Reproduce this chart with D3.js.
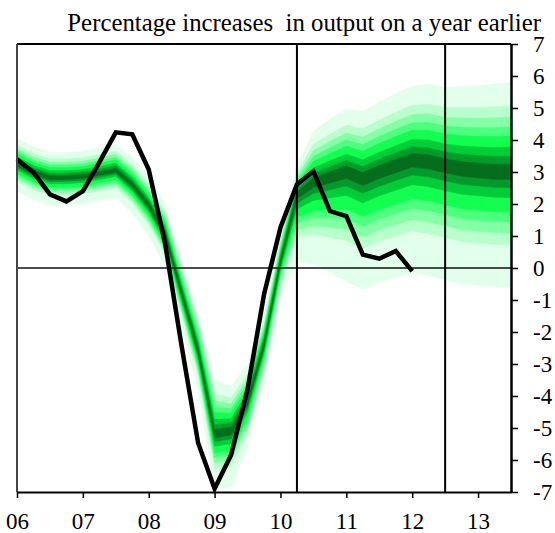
<!doctype html>
<html lang="en">
<head>
<meta charset="utf-8">
<title>Output fan chart</title>
<script src="https://cdn.jsdelivr.net/npm/d3@7/dist/d3.min.js"></script>
<style>
  body { margin: 0; background: #fff; }
  svg { display: block; font-family: "Liberation Serif", "DejaVu Serif", serif; }
  .axis path, .axis line { stroke: #000; }
  .axis text { font-size: 23px; fill: #000; font-family: "Liberation Serif", serif; }
</style>
</head>
<body>
<svg width="555" height="533"></svg>
<script>
// quarterly series, first point is 2006 Q1
var startYear = 2006;

// outturn, % change on a year earlier (2006 Q1 - 2012 Q1)
var outturn = [3.40, 2.99, 2.30, 2.08, 2.40, 3.30, 4.24, 4.18,
               3.08, 0.75, -2.45, -5.47, -6.90, -5.84, -3.80, -0.83,
               1.27, 2.61, 3.03, 1.78, 1.62, 0.42, 0.29, 0.53, -0.10];

// fan centre (2006 Q1 - 2013 Q3)
var fanCentre = [3.25, 2.98, 2.82, 2.82, 2.85, 2.95, 3.05, 2.60,
                 1.95, 1.05, -0.80, -2.60, -5.20, -5.10, -4.20, -2.40,
                 0.20, 2.30, 2.68, 2.85, 3.02, 2.80, 3.02, 3.20,
                 3.38, 3.33, 3.20, 3.10, 3.05, 3.00, 3.00];

// distance from centre to outer edge of the fan, above and below
var fanUp = [0.80, 0.80, 0.80, 0.80, 0.80, 0.80, 0.82, 0.85,
             0.90, 0.95, 1.05, 1.20, 1.70, 1.40, 1.20, 1.00,
             0.90, 0.90, 1.60, 1.80, 1.94, 2.10, 2.16, 2.25,
             2.30, 2.42, 2.45, 2.58, 2.65, 2.75, 2.80];
var fanDown = [0.85, 0.85, 0.85, 0.85, 0.85, 0.85, 0.85, 0.90,
               0.95, 1.00, 1.05, 1.20, 1.70, 1.75, 1.40, 1.20,
               1.10, 2.10, 2.58, 3.00, 3.42, 3.47, 3.47, 3.50,
               3.53, 3.58, 3.56, 3.60, 3.60, 3.58, 3.62];

// band edges as share of the outer distance, centre band first
var bandUp = [0.086, 0.176, 0.277, 0.403, 0.504, 0.615, 0.741, 1.0];
var bandDown = [0.064, 0.134, 0.220, 0.344, 0.430, 0.528, 0.631, 1.0];
var bandColours = ["#056e1d", "#019a2b", "#00cd38", "#12ff52",
                   "#4cff7d", "#85ffa5", "#b8ffcc", "#e2ffeb"];

var yearTicks = [2006, 2007, 2008, 2009, 2010, 2011, 2012, 2013];
var valueTicks = [-7, -6, -5, -4, -3, -2, -1, 0, 1, 2, 3, 4, 5, 6, 7];
var markers = [2010.25, 2012.5];
var title = "Percentage increases  in output on a year earlier";

var svg = d3.select("svg");
var m = {left: 17, right: 511, top: 44, bottom: 492};

var x = d3.scaleLinear().domain([2006, 2013.5]).range([m.left, m.right]);
var y = d3.scaleLinear().domain([-7, 7]).range([m.bottom, m.top]);

function qt(i) { return startYear + i / 4; }

var fan = fanCentre.map(function(c, i) {
  return {t: qt(i), c: c, up: fanUp[i], down: fanDown[i]};
});

var plot = svg.append("g");

// fan bands, lightest first
for (var k = bandColours.length - 1; k >= 0; k--) {
  (function(k) {
    var area = d3.area()
      .x(function(d) { return x(d.t); })
      .y0(function(d) { return y(d.c - d.down * bandDown[k]); })
      .y1(function(d) { return y(d.c + d.up * bandUp[k]); });
    plot.append("path")
      .datum(fan)
      .attr("d", area)
      .attr("fill", bandColours[k])
      .attr("stroke", bandColours[k])
      .attr("stroke-width", 0.5);
  })(k);
}

// zero line
plot.append("line")
  .attr("x1", m.left).attr("x2", m.right)
  .attr("y1", y(0)).attr("y2", y(0))
  .attr("stroke", "#111").attr("stroke-width", 1.6);

// vertical markers
plot.selectAll(".marker")
  .data(markers)
  .enter().append("line")
  .attr("class", "marker")
  .attr("x1", function(d) { return x(d); })
  .attr("x2", function(d) { return x(d); })
  .attr("y1", m.top).attr("y2", m.bottom)
  .attr("stroke", "#000").attr("stroke-width", 2);

// outturn line
var line = d3.line()
  .x(function(d, i) { return x(qt(i)); })
  .y(function(d) { return y(d); });

plot.append("path")
  .datum(outturn)
  .attr("d", line)
  .attr("fill", "none")
  .attr("stroke", "#000")
  .attr("stroke-width", 4.5)
  .attr("stroke-linejoin", "miter");

// frame: top and left
svg.append("line")
  .attr("x1", m.left).attr("x2", m.right)
  .attr("y1", m.top).attr("y2", m.top)
  .attr("stroke", "#000").attr("stroke-width", 2);
svg.append("line")
  .attr("x1", m.left).attr("x2", m.left)
  .attr("y1", m.top).attr("y2", m.bottom)
  .attr("stroke", "#444").attr("stroke-width", 2);

// bottom axis
var xAxis = svg.append("g")
  .attr("class", "axis")
  .attr("transform", "translate(0," + m.bottom + ")")
  .call(d3.axisBottom(x)
    .tickValues(yearTicks)
    .tickSize(6)
    .tickSizeOuter(0)
    .tickPadding(15)
    .tickFormat(function(d) { return String(d).slice(2); }));
xAxis.select(".domain").attr("stroke-width", 2);
xAxis.selectAll(".tick line").attr("stroke-width", 1.5);

// right axis
var yAxis = svg.append("g")
  .attr("class", "axis")
  .attr("transform", "translate(" + m.right + ",0)")
  .call(d3.axisRight(y)
    .tickValues(valueTicks)
    .tickSize(7)
    .tickSizeOuter(0)
    .tickPadding(15)
    .tickFormat(function(d) { return String(d); }));
yAxis.select(".domain").attr("stroke-width", 2.5);
yAxis.selectAll(".tick line").attr("stroke-width", 1.5);

// title
svg.append("text")
  .attr("x", 541)
  .attr("y", 31)
  .attr("text-anchor", "end")
  .style("white-space", "pre")
  .style("font-size", "24.8px")
  .text(title);
</script>
</body>
</html>
